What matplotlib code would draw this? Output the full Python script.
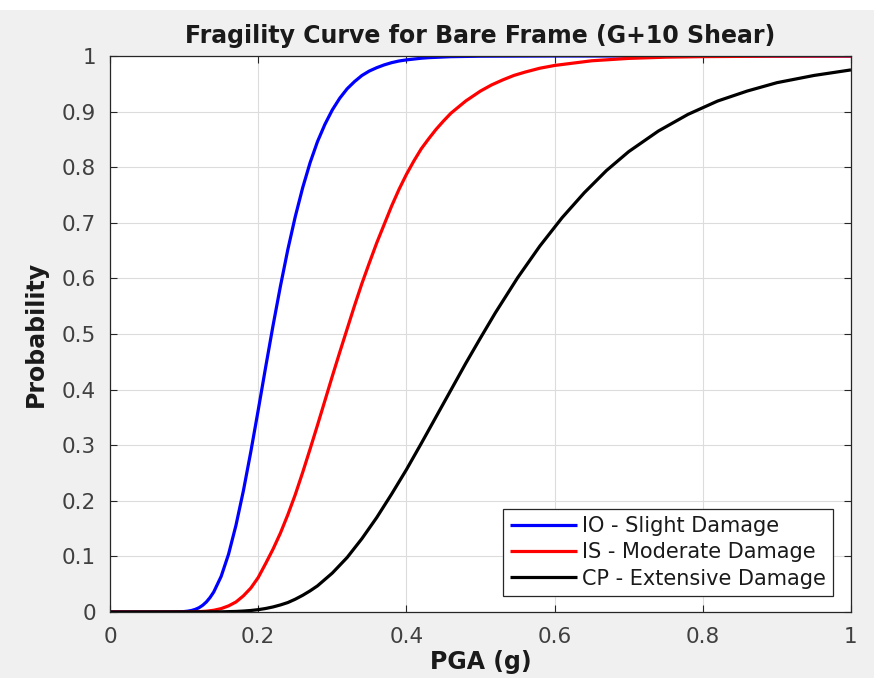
import numpy as np
import matplotlib
matplotlib.use("Agg")
import matplotlib.pyplot as plt
from matplotlib.patches import Rectangle

plt.rcParams['font.family'] = ['DejaVu Sans']

# === Dane ===
pga_io = [0, 0.08, 0.09, 0.10, 0.105, 0.11, 0.115, 0.12, 0.125, 0.13, 0.135, 0.14, 0.15,
          0.16, 0.17, 0.18, 0.19, 0.20, 0.21, 0.22, 0.23, 0.24, 0.25, 0.26, 0.27, 0.28,
          0.29, 0.30, 0.31, 0.32, 0.33, 0.34, 0.35, 0.36, 0.37, 0.38, 0.39, 0.40, 0.42,
          0.43, 0.46, 0.50, 0.60, 1.0]
p_io = [0, 0, 0.0002, 0.0008, 0.0015, 0.0027, 0.0047, 0.0076, 0.012, 0.018, 0.026, 0.036,
        0.064, 0.104, 0.156, 0.218, 0.288, 0.363, 0.440, 0.515, 0.586, 0.652, 0.711, 0.763,
        0.808, 0.846, 0.877, 0.903, 0.924, 0.941, 0.954, 0.965, 0.973, 0.979, 0.984, 0.988,
        0.991, 0.993, 0.996, 0.997, 0.9988, 0.9996, 1.0, 1.0]

pga_is = [0, 0.10, 0.12, 0.13, 0.14, 0.15, 0.16, 0.17, 0.18, 0.19, 0.20, 0.21, 0.22, 0.23,
          0.24, 0.25, 0.26, 0.27, 0.28, 0.29, 0.30, 0.31, 0.32, 0.33, 0.34, 0.35, 0.36,
          0.37, 0.38, 0.39, 0.40, 0.41, 0.42, 0.43, 0.44, 0.45, 0.46, 0.47, 0.48, 0.50,
          0.515, 0.53, 0.545, 0.56, 0.58, 0.60, 0.65, 0.70, 0.75, 0.80, 0.90, 1.0]
p_is = [0, 0.0001, 0.0006, 0.0014, 0.0031, 0.0061, 0.011, 0.018, 0.029, 0.043, 0.062, 0.087,
        0.113, 0.142, 0.175, 0.211, 0.251, 0.293, 0.336, 0.380, 0.424, 0.467, 0.509, 0.551,
        0.591, 0.628, 0.664, 0.697, 0.730, 0.760, 0.787, 0.811, 0.833, 0.851, 0.868, 0.883,
        0.897, 0.908, 0.919, 0.937, 0.948, 0.957, 0.965, 0.971, 0.978, 0.983, 0.9914,
        0.9957, 0.9979, 0.9989, 0.9997, 0.9999]

pga_cp = [0, 0.15, 0.17, 0.18, 0.19, 0.20, 0.21, 0.22, 0.23, 0.24, 0.25, 0.26, 0.27, 0.28,
          0.30, 0.32, 0.34, 0.36, 0.38, 0.40, 0.42, 0.44, 0.46, 0.48, 0.50, 0.52, 0.55,
          0.58, 0.61, 0.64, 0.67, 0.70, 0.74, 0.78, 0.82, 0.86, 0.90, 0.95, 1.0]
p_cp = [0, 0.0003, 0.001, 0.0017, 0.0027, 0.0042, 0.0063, 0.0091, 0.0127, 0.017, 0.023,
        0.030, 0.038, 0.047, 0.070, 0.098, 0.132, 0.170, 0.212, 0.256, 0.303, 0.351, 0.399,
        0.447, 0.493, 0.538, 0.601, 0.658, 0.709, 0.754, 0.794, 0.828, 0.865, 0.895, 0.919,
        0.937, 0.952, 0.965, 0.975]

labels = ["IO - Slight Damage", "IS - Moderate Damage", "CP - Extensive Damage"]
colors = ["#0000ff", "#ff0000", "#000000"]

xticks = [0, 0.2, 0.4, 0.6, 0.8, 1]
xtick_labels = ["0", "0.2", "0.4", "0.6", "0.8", "1"]
yticks = [0, 0.1, 0.2, 0.3, 0.4, 0.5, 0.6, 0.7, 0.8, 0.9, 1]
ytick_labels = ["0", "0.1", "0.2", "0.3", "0.4", "0.5", "0.6", "0.7", "0.8", "0.9", "1"]

# === Wykres ===
fig = plt.figure(figsize=(8.74, 6.78), dpi=100, facecolor="#f0f0f0")
fig.patches.append(Rectangle((0, 1 - 10 / 678), 1, 10 / 678, transform=fig.transFigure,
                             facecolor="white", edgecolor="none", zorder=-1))
ax = fig.add_axes([110 / 874, 66 / 678, 741 / 874, 556 / 678])

for xs, ys, lab, c in zip([pga_io, pga_is, pga_cp], [p_io, p_is, p_cp], labels, colors):
    ax.plot(xs, ys, color=c, linewidth=2.3, label=lab, solid_capstyle="butt")

ax.set_xlim(0, 1)
ax.set_ylim(0, 1)
ax.set_xticks(xticks)
ax.set_xticklabels(xtick_labels)
ax.set_yticks(yticks)
ax.set_yticklabels(ytick_labels)
ax.tick_params(direction="in", length=5, width=0.8, colors="#262626", labelsize=15.5,
               top=True, right=True)
ax.tick_params(axis="x", pad=11)
ax.tick_params(axis="y", pad=10)
for t in ax.get_xticklabels() + ax.get_yticklabels():
    t.set_color("#404040")
ax.grid(True, color="#dcdcdc", linewidth=0.8)
ax.set_axisbelow(True)
for s in ax.spines.values():
    s.set_color("#262626")
    s.set_linewidth(0.9)

ax.set_title("Fragility Curve for Bare Frame (G+10 Shear)", fontsize=17,
             fontweight="bold", color="#1a1a1a", pad=9)
ax.set_xlabel("PGA (g)", fontsize=17, fontweight="bold", color="#1a1a1a", labelpad=2)
ax.set_ylabel("Probability", fontsize=17, fontweight="bold", color="#1a1a1a", labelpad=10)

leg = ax.legend(loc="lower right", bbox_to_anchor=(0.9757, 0.0288), borderaxespad=0,
                fontsize=15, handlelength=3.2, handletextpad=0.25, labelspacing=0.3,
                borderpad=0.35, fancybox=False, framealpha=1, edgecolor="#262626")
leg.get_frame().set_linewidth(0.9)
for t in leg.get_texts():
    t.set_color("#1a1a1a")

fig.savefig("out.png", dpi=100, facecolor=fig.get_facecolor())
